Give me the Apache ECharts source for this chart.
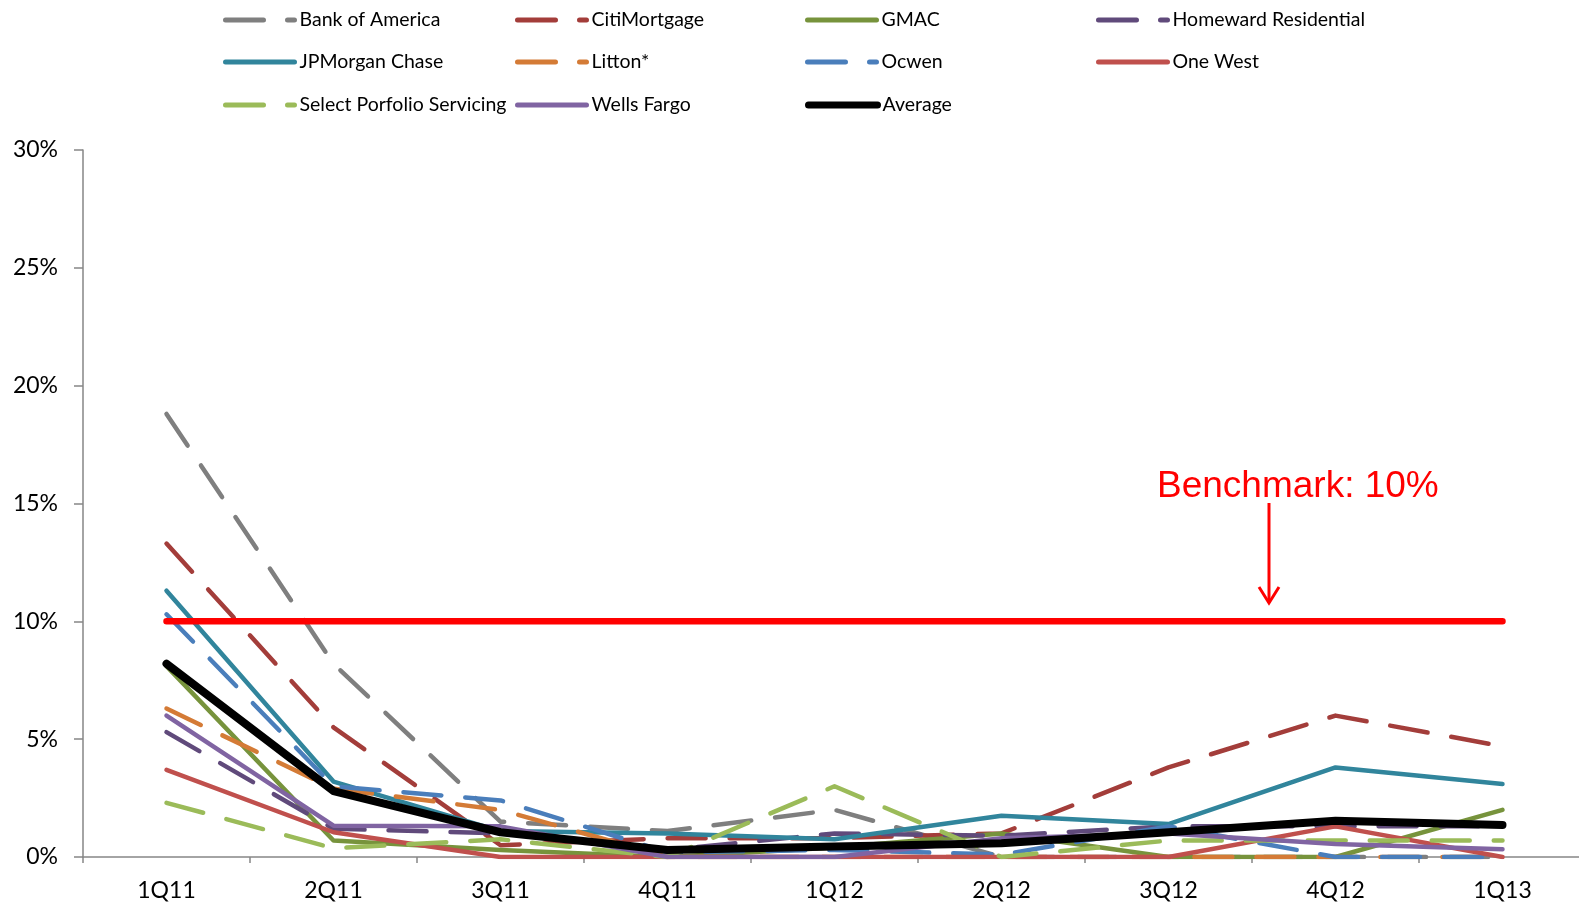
<!DOCTYPE html>
<html><head><meta charset="utf-8">
<script src="https://cdn.jsdelivr.net/npm/echarts@6/dist/echarts.min.js"></script>
<style>html,body{margin:0;padding:0;background:#fff;overflow:hidden}#c{width:1590px;height:902px}</style>
</head><body><div id="c"></div>
<script>
const categories = ['1Q11','2Q11','3Q11','4Q11','1Q12','2Q12','3Q12','4Q12','1Q13'];
const bankOfAmerica = [18.8, 8.2, 1.5, 1.1, 2.0, 0, 0, 0, 0];
const citiMortgage  = [13.3, 5.5, 0.5, 0.8, 0.8, 1.0, 3.8, 6.0, 4.7];
const gmac          = [8.1, 0.7, 0.3, 0, 0.4, 1.0, 0, 0, 2.0];
const homeward      = [5.3, 1.2, 1.0, 0.3, 1.0, 0.9, 1.3, 1.3, 1.3];
const jpmorgan      = [11.3, 3.2, 1.1, 1.0, 0.75, 1.75, 1.4, 3.8, 3.1];
const litton        = [6.3, 2.9, 2.0, 0, 0, 0, 0, 0, 0];
const ocwen         = [10.3, 3.0, 2.4, 0.2, 0.3, 0.1, 1.3, 0, 0];
const oneWest       = [3.7, 1.05, 0, 0, 0, 0, 0, 1.3, 0];
const sps           = [2.3, 0.37, 0.75, 0, 3.0, 0, 0.7, 0.7, 0.7];
const wellsFargo    = [6.0, 1.33, 1.3, 0, 0, 0.8, 1.0, 0.55, 0.33];
const average       = [8.2, 2.8, 1.05, 0.3, 0.45, 0.58, 1.05, 1.54, 1.36];
const benchmark     = [10, 10, 10, 10, 10, 10, 10, 10, 10];
const yMin = 0, yMax = 30, yStep = 5;

const defs = [
  {name:'Bank of America', data:bankOfAmerica, color:'#7F7F7F', dashed:true},
  {name:'CitiMortgage', data:citiMortgage, color:'#A33D3A', dashed:true},
  {name:'GMAC', data:gmac, color:'#77933C', dashed:false},
  {name:'Homeward Residential', data:homeward, color:'#604A7B', dashed:true},
  {name:'JPMorgan Chase', data:jpmorgan, color:'#31859C', dashed:false},
  {name:'Litton*', data:litton, color:'#D47B36', dashed:true},
  {name:'Ocwen', data:ocwen, color:'#4A7EBB', dashed:true},
  {name:'One West', data:oneWest, color:'#C0504D', dashed:false},
  {name:'Select Porfolio Servicing', data:sps, color:'#9BBB59', dashed:true},
  {name:'Wells Fargo', data:wellsFargo, color:'#8064A2', dashed:false},
  {name:'Average', data:average, color:'#000000', dashed:false, width:8}
];

const series = defs.map((d,i) => ({
  type:'line', name:d.name, data:d.data, symbol:'none', z:2+i,
  lineStyle:{color:d.color, width:d.width||4.5, type:d.dashed?[38,24]:'solid', cap:'round', join:'round'},
  itemStyle:{color:d.color}
}));
series.push({type:'line', name:'Benchmark', data:benchmark, symbol:'none', z:20,
  lineStyle:{color:'#FF0000', width:6.5, cap:'round'}, itemStyle:{color:'#FF0000'}});

const legCols = [223, 515, 805, 1096];
const legRows = [18, 60, 103];
const legends = defs.map((d,i) => ({
  data:[d.name], left:legCols[i%4], top:legRows[Math.floor(i/4)]-8,
  itemWidth:69, itemHeight:20, padding:0, selectedMode:false,
  itemStyle:{opacity:0},
  lineStyle:{width: d.width ? 7 : 5, cap:'round'},
  textStyle:{fontFamily:'Lato', fontSize:19.5, color:'#000'}
}));

const chart = echarts.init(document.getElementById('c'), null, {renderer:'canvas'});
chart.setOption({
  animation:false,
  backgroundColor:'#fff',
  legend: legends,
  grid:{left:83, top:150, right:4, bottom:45, containLabel:false},
  xAxis:{type:'category', data:categories, boundaryGap:true,
    axisLine:{lineStyle:{color:'#868686', width:1.5}},
    axisTick:{show:true, length:6, lineStyle:{color:'#868686', width:1.5}},
    axisLabel:{color:'#000', fontFamily:'Lato', fontSize:23, margin:22}},
  yAxis:{type:'value', min:yMin, max:yMax, interval:yStep,
    splitLine:{show:false},
    axisLine:{show:true, lineStyle:{color:'#868686', width:1.5}},
    axisTick:{show:true, length:9, lineStyle:{color:'#868686', width:1.5}},
    axisLabel:{color:'#000', fontFamily:'Lato', fontSize:23, margin:25, formatter:'{value}%'}},
  series: series,
  graphic:[
    {type:'text', left:1157, top:468, style:{text:'Benchmark: 10%', fill:'#FF0000', font:'37px "Liberation Sans", Arial'}},
    {type:'line', shape:{x1:1269, y1:503, x2:1269, y2:603}, style:{stroke:'#FF0000', lineWidth:3}},
    {type:'polyline', shape:{points:[[1259,587],[1269,603],[1279,587]]}, style:{stroke:'#FF0000', lineWidth:3, fill:null}}
  ]
});
</script></body></html>
